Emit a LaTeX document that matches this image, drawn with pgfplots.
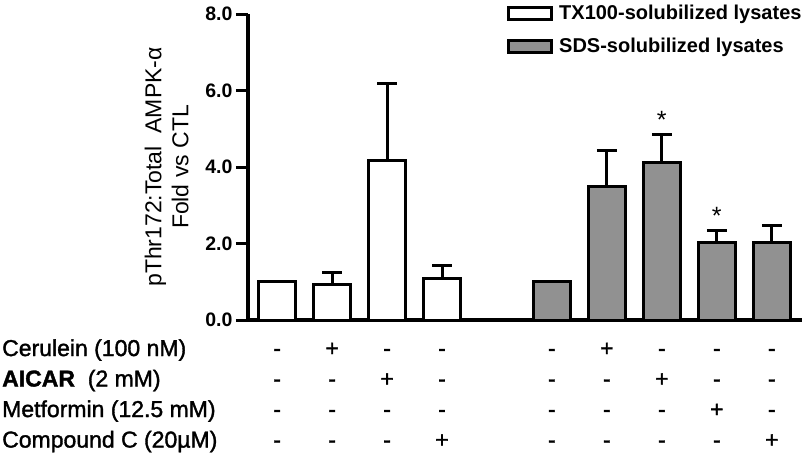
\documentclass[border=0pt]{standalone}
\usepackage{fontspec}
\setmainfont{Liberation Sans}
\newfontfamily\tabfam[FakeBold=1.5]{Liberation Sans}
\usepackage{pgfplots}
\pgfplotsset{compat=1.18}
\definecolor{barGrey}{HTML}{919191}

\newcommand{\tabfont}{\tabfam\fontsize{23}{30.5}\selectfont}
\newcommand{\p}{\strut+}
\newcommand{\m}{\strut-}

\begin{document}
\begin{tikzpicture}
\begin{axis}[
  scale only axis, width=554pt, height=306pt,
  xmin=-0.53, xmax=9.55, ymin=0, ymax=8,
  clip=false,
  axis lines=left, axis line style={line width=4.5pt,-},
  ytick={0,2,4,6,8},
  yticklabel style={font=\fontsize{19.5}{22}\selectfont\bfseries,
    /pgf/number format/.cd, fixed, fixed zerofill, precision=1, assume math mode=true},
  ytick style={line width=3pt, black}, major tick length=12pt, tick align=outside,
  xtick={0,1,2,3,5,6,7,8,9},
  xtick style={draw=none},
  xticklabels={
    {\m\\\m\\\m\\\m},
    {\p\\\m\\\m\\\m},
    {\m\\\p\\\m\\\m},
    {\m\\\m\\\m\\\p},
    {\m\\\m\\\m\\\m},
    {\p\\\m\\\m\\\m},
    {\m\\\p\\\m\\\m},
    {\m\\\m\\\p\\\m},
    {\m\\\m\\\m\\\p}},
  xticklabel style={font=\tabfont, align=center, anchor=north, inner sep=0pt, yshift=-2.5pt},
  ylabel={pThr172:Total\ \ AMPK-α\\Fold vs CTL},
  ylabel style={align=center, font=\fontsize{23}{27}\selectfont},
  ylabel shift=10pt,
  legend style={draw=none, fill=none, at={(rel axis cs:0.4675,1.036)}, anchor=north west,
    font=\fontsize{20}{23}\selectfont\bfseries, row sep=13pt, inner sep=0pt},
  legend cell align=left,
]
\addplot[ybar, bar width=37pt, bar shift=0pt, fill=white, draw=black, line width=3pt,
  legend image code/.code={\draw[fill=white, draw=black, line width=3pt] (0pt,-6pt) rectangle (43pt,6pt); \path (47pt,0pt);},
  error bars/.cd, y dir=plus, y explicit, error mark=|,
  error bar style={line width=3pt, black},
  error mark options={line width=3pt, mark size=10pt, black}]
  table[x=x, y=y, y error=e] {
x y e
0 1.00 0
1 0.93 0.32
2 4.17 2.02
3 1.09 0.33
};
\addplot[ybar, bar width=37pt, bar shift=0pt, fill=barGrey, draw=black, line width=3pt,
  legend image code/.code={\draw[fill=barGrey, draw=black, line width=3pt] (0pt,-6pt) rectangle (43pt,6pt); \path (47pt,0pt);},
  error bars/.cd, y dir=plus, y explicit, error mark=|,
  error bar style={line width=3pt, black},
  error mark options={line width=3pt, mark size=10pt, black}]
  table[x=x, y=y, y error=e] {
x y e
5 1.00 0
6 3.50 0.94
7 4.11 0.73
8 2.02 0.33
9 2.02 0.45
};
\legend{TX100-solubilized lysates, SDS-solubilized lysates}

\node[font=\fontsize{25}{25}\selectfont, anchor=base] at (axis cs:7,5.01) {*};
\node[font=\fontsize{25}{25}\selectfont, anchor=base] at (axis cs:8,2.50) {*};

\node[anchor=north west, inner sep=0pt, align=left, font=\tabfont, xshift=-246pt, yshift=-14.5pt]
  at (rel axis cs:0,0)
  {\strut Cerulein (100 nM)\\\strut\textbf{AICAR}\ \ (2 mM)\\\strut Metformin (12.5 mM)\\\strut Compound C (20µM)};

\path ([xshift=-248pt,yshift=-138pt]rel axis cs:0,0) rectangle ([xshift=558pt,yshift=320pt]rel axis cs:0,0);
\end{axis}
\end{tikzpicture}
\end{document}
